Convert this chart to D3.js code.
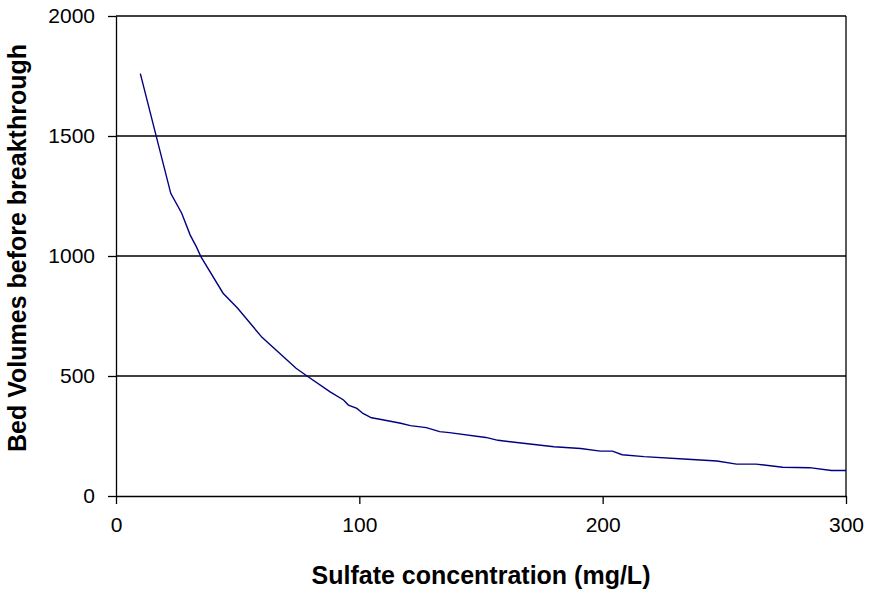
<!DOCTYPE html>
<html>
<head>
<meta charset="utf-8">
<script src="https://cdn.jsdelivr.net/npm/d3@7"></script>
<style>
  body { margin: 0; background: #fff; }
  text { font-family: "Liberation Sans", Arial, sans-serif; fill: #000; }
  .tick text { font-size: 21px; }
  .axis-label { font-size: 25px; font-weight: bold; }
</style>
</head>
<body>
<svg id="chart" width="874" height="591"></svg>
<script>
// sulfate concentration (mg/L)
const sulfate = [10, 22.5, 27, 30.5, 33, 35, 44, 50, 60, 74, 78.5, 88, 93.5, 95.5, 99, 101.5, 105, 109,
  117, 121, 127.5, 133, 137, 152, 157, 180, 191, 199, 204, 208, 217, 235, 247, 255, 263, 274, 285, 294, 300];
// bed volumes before breakthrough
const bedVolumes = [1760, 1261, 1178, 1087, 1039, 995, 845, 782, 661, 532, 500, 434, 400, 379, 365, 344, 326, 319,
  303, 293, 285, 268, 264, 244, 232, 205, 198, 187, 187, 172, 164, 153, 146, 133, 133, 120, 118, 106, 106];
const xTicks = [0, 100, 200, 300];
const yTicks = [0, 500, 1000, 1500, 2000];

const data = sulfate.map((s, i) => ({x: s, y: bedVolumes[i]}));

const plotLeft = 116, plotRight = 846, plotTop = 16, plotBottom = 496;
const svg = d3.select("#chart");

const x = d3.scaleLinear().domain([0, 300]).range([plotLeft, plotRight]);
const y = d3.scaleLinear().domain([0, 2000]).range([plotBottom, plotTop]);

// gridlines
svg.append("g")
   .selectAll("line")
   .data(yTicks.filter(d => d > 0))
   .enter()
   .append("line")
   .attr("x1", plotLeft).attr("x2", plotRight)
   .attr("y1", d => y(d)).attr("y2", d => y(d))
   .attr("stroke", "#000")
   .attr("stroke-width", 1.3);

// right border of plot area
svg.append("line")
   .attr("x1", plotRight).attr("x2", plotRight)
   .attr("y1", plotTop).attr("y2", plotBottom)
   .attr("stroke", "#000")
   .attr("stroke-width", 1.3);

// axes
const xAxis = d3.axisBottom(x).tickValues(xTicks).tickFormat(d3.format("d"))
                .tickSize(8).tickPadding(13).tickSizeOuter(0);
const yAxis = d3.axisLeft(y).tickValues(yTicks).tickFormat(d3.format("d"))
                .tickSize(8).tickPadding(13).tickSizeOuter(0);

const gx = svg.append("g")
   .attr("transform", "translate(0," + plotBottom + ")")
   .call(xAxis);
const gy = svg.append("g")
   .attr("transform", "translate(" + plotLeft + ",0)")
   .call(yAxis);
[gx, gy].forEach(g => {
  g.attr("font-family", null).attr("font-size", null);
  g.select(".domain").attr("stroke", "#000").attr("stroke-width", 1.3);
  g.selectAll(".tick line").attr("stroke", "#000").attr("stroke-width", 1.3);
});

// curve
const line = d3.line().x(d => x(d.x)).y(d => y(d.y));
svg.append("path")
   .datum(data)
   .attr("d", line)
   .attr("fill", "none")
   .attr("stroke", "#000080")
   .attr("stroke-width", 1.4);

// axis labels
svg.append("text")
   .attr("class", "axis-label")
   .attr("text-anchor", "middle")
   .attr("x", 481)
   .attr("y", 584)
   .text("Sulfate concentration (mg/L)");
svg.append("text")
   .attr("class", "axis-label")
   .attr("text-anchor", "middle")
   .attr("transform", "translate(26,248) rotate(-90)")
   .text("Bed Volumes before breakthrough");
</script>
</body>
</html>
